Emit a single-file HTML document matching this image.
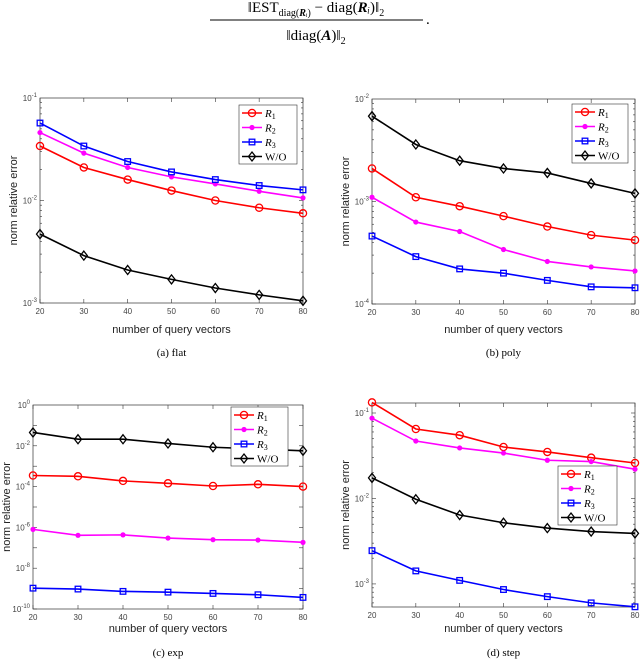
<!DOCTYPE html>
<html><head><meta charset="utf-8"><style>
body{margin:0;background:#fff;width:640px;height:664px;overflow:hidden;font-family:"Liberation Sans",sans-serif}
</style></head><body>
<svg id="root" width="640" height="664" font-family="Liberation Sans, sans-serif">
<g style="font-family:'Liberation Serif',serif">
<text x="316" y="12" text-anchor="middle" font-size="15">‖EST<tspan font-size="10" dy="4">diag(<tspan font-weight="bold" font-style="italic">R</tspan><tspan font-style="italic">ᵢ</tspan>)</tspan><tspan dy="-4"> − diag(</tspan><tspan font-weight="bold" font-style="italic">R</tspan><tspan font-style="italic">ᵢ</tspan>)‖<tspan font-size="10" dy="4">2</tspan></text>
<line x1="210" y1="20" x2="423" y2="20" stroke="#000" stroke-width="1"/>
<text x="316" y="40" text-anchor="middle" font-size="15">‖diag(<tspan font-weight="bold" font-style="italic">A</tspan>)‖<tspan font-size="10" dy="4">2</tspan></text>
<text x="426" y="24" font-size="15">.</text>
</g>
</svg>
<script>
const xVals=[20,30,40,50,60,70,80];
const aR1=[0.034,0.021,0.016,0.0125,0.010,0.0085,0.0075];
const aR2=[0.046,0.029,0.021,0.017,0.0145,0.0123,0.0106];
const aR3=[0.057,0.034,0.024,0.019,0.016,0.014,0.0127];
const aWO=[0.0047,0.0029,0.0021,0.0017,0.0014,0.0012,0.00105];
const bR1=[0.0021,0.0011,0.0009,0.00072,0.00057,0.00047,0.00042];
const bR2=[0.0011,0.00063,0.00051,0.00034,0.00026,0.00023,0.00021];
const bR3=[0.00046,0.00029,0.00022,0.0002,0.00017,0.000147,0.000144];
const bWO=[0.0068,0.0036,0.0025,0.0021,0.0019,0.0015,0.0012];
const cR1=[3.5e-4,3.2e-4,1.9e-4,1.45e-4,1.07e-4,1.3e-4,1.0e-4];
const cR2=[8e-7,4.1e-7,4.3e-7,3e-7,2.5e-7,2.4e-7,1.85e-7];
const cR3=[1.05e-9,9.5e-10,7.3e-10,6.7e-10,5.8e-10,5e-10,3.7e-10];
const cWO=[0.045,0.021,0.021,0.013,0.0085,0.007,0.0057];
const dR1=[0.133,0.065,0.055,0.040,0.035,0.030,0.026];
const dR2=[0.087,0.047,0.039,0.034,0.028,0.027,0.022];
const dR3=[0.00245,0.00142,0.0011,0.00086,0.00071,0.0006,0.00054];
const dWO=[0.0174,0.0098,0.0064,0.0052,0.0045,0.0041,0.0039];
const xTicks=[20,30,40,50,60,70,80];
const aDec=[-3,-2,-1], bDec=[-4,-3,-2], cDec=[-10,-8,-6,-4,-2,0], dDec=[-3,-2,-1];
const NS='http://www.w3.org/2000/svg';
const root=document.getElementById('root');
const SERIF="font-family:'Liberation Serif',serif";
function mk(tag,attrs,parent){const e=document.createElementNS(NS,tag);for(const k in attrs)e.setAttribute(k,attrs[k]);(parent||root).appendChild(e);return e;}
const styles=[{c:'#ff0000',m:'circle',name:'R',sub:'1'},{c:'#ff00ff',m:'dot',name:'R',sub:'2'},{c:'#0000ff',m:'square',name:'R',sub:'3'},{c:'#000000',m:'diamond',name:'W/O'}];
function marker(g,type,x,y,c){
 if(type==='circle')mk('circle',{cx:x,cy:y,r:3.6,fill:'none',stroke:c,'stroke-width':1.3},g);
 else if(type==='dot')mk('circle',{cx:x,cy:y,r:2.6,fill:c},g);
 else if(type==='square')mk('rect',{x:x-2.8,y:y-2.8,width:5.6,height:5.6,fill:'none',stroke:c,'stroke-width':1.3},g);
 else mk('path',{d:`M${x} ${y-4.5}L${x+3.5} ${y}L${x} ${y+4.5}L${x-3.5} ${y}Z`,fill:'none',stroke:c,'stroke-width':1.3},g);
}
function panel(id,L,R,T,B,lmin,lmax,decs,series,leg,cap,capY,xlabY){
 const g=mk('g',{});
 
 
 const xs=v=>L+(v-20)/60*(R-L);
 const ys=v=>B-(Math.log10(v)-lmin)/(lmax-lmin)*(B-T);
 mk('rect',{x:L,y:T,width:R-L,height:B-T,fill:'#fff',stroke:'#333','stroke-width':0.7},g);
 const sparse=(decs.length>1&&decs[1]-decs[0]==2);
 for(let d=Math.floor(lmin);d<Math.ceil(lmax);d++){
  for(let k=1;k<10;k++){const lv=d+Math.log10(k);if(lv<lmin-1e-9||lv>lmax+1e-9)continue;
   if(sparse && k!==1)continue;
   const y=ys(Math.pow(10,lv));const len=(k===1)?4:2;
   mk('line',{x1:L,y1:y,x2:L+len,y2:y,stroke:'#333','stroke-width':0.6},g);
   mk('line',{x1:R,y1:y,x2:R-len,y2:y,stroke:'#333','stroke-width':0.6},g);}
 }
 decs.forEach(d=>{const y=ys(Math.pow(10,d));
  const t=mk('text',{x:L-3,y:y+3,'text-anchor':'end','font-size':8,fill:'#444'},g);
  
  
  t.textContent='10';const s=mk('tspan',{dy:-4,'font-size':6},t);s.textContent=String(d);});
 xTicks.forEach(v=>{const x=xs(v);
  mk('line',{x1:x,y1:B,x2:x,y2:B-4,stroke:'#333','stroke-width':0.6},g);
  mk('line',{x1:x,y1:T,x2:x,y2:T+4,stroke:'#333','stroke-width':0.6},g);
  const t=mk('text',{x:x,y:B+11,'text-anchor':'middle','font-size':8,fill:'#444'},g);
  
  
  t.textContent=v;});
 series.forEach((vals,i)=>{const st=styles[i];
  const sg=mk('g',{},g);
  
  
  mk('polyline',{points:vals.map((v,j)=>xs(xVals[j])+','+ys(v)).join(' '),fill:'none',stroke:st.c,'stroke-width':1.6},sg);
  vals.forEach((v,j)=>marker(sg,st.m,xs(xVals[j]),ys(v),st.c));});
 const yl=mk('text',{x:0,y:0,transform:`translate(${L-23},${(T+B)/2}) rotate(-90)`,'text-anchor':'middle','font-size':11,fill:'#222'},g);
 
 
 yl.textContent='norm relative error';
 const xl=mk('text',{x:(L+R)/2,y:xlabY,'text-anchor':'middle','font-size':11,fill:'#222'},g);
 
 
 xl.textContent='number of query vectors';
 const lg=mk('g',{},g);
 
 
 mk('rect',{x:leg[0],y:leg[1],width:leg[2],height:59,fill:'#fff',stroke:'#333','stroke-width':0.6},lg);
 styles.forEach((st,i)=>{const y=leg[1]+8+i*14.5;const x0=leg[0]+3;
  mk('line',{x1:x0,y1:y,x2:x0+20,y2:y,stroke:st.c,'stroke-width':1.6},lg);
  marker(lg,st.m,x0+10,y,st.c);
  const t=mk('text',{x:x0+23,y:y+4,'font-size':11,style:SERIF,fill:'#000'},lg);
  
  
  if(st.sub){const a=mk('tspan',{'font-style':'italic'},t);a.textContent='R';const b=mk('tspan',{'font-size':8,dy:2},t);b.textContent=st.sub;}
  else t.textContent=st.name;});
 const c=mk('text',{x:(L+R)/2,y:capY,'text-anchor':'middle','font-size':11,style:SERIF,fill:'#000'},g);
 
 
 c.textContent=cap;
}
panel('flat',40,303,98,303,-3,-1,aDec,[aR1,aR2,aR3,aWO],[239,105,58],'(a)  flat',356,333);
panel('poly',372,635,99,304,-4,-2,bDec,[bR1,bR2,bR3,bWO],[572,104,56],'(b)  poly',356,333);
panel('exp',33,303,405,609,-10,0,cDec,[cR1,cR2,cR3,cWO],[231,407,57],'(c)  exp',656,632);
panel('step',372,635,403,607,-3.27,-0.883,dDec,[dR1,dR2,dR3,dWO],[558,466,59],'(d)  step',656,632);
</script>
</body></html>
